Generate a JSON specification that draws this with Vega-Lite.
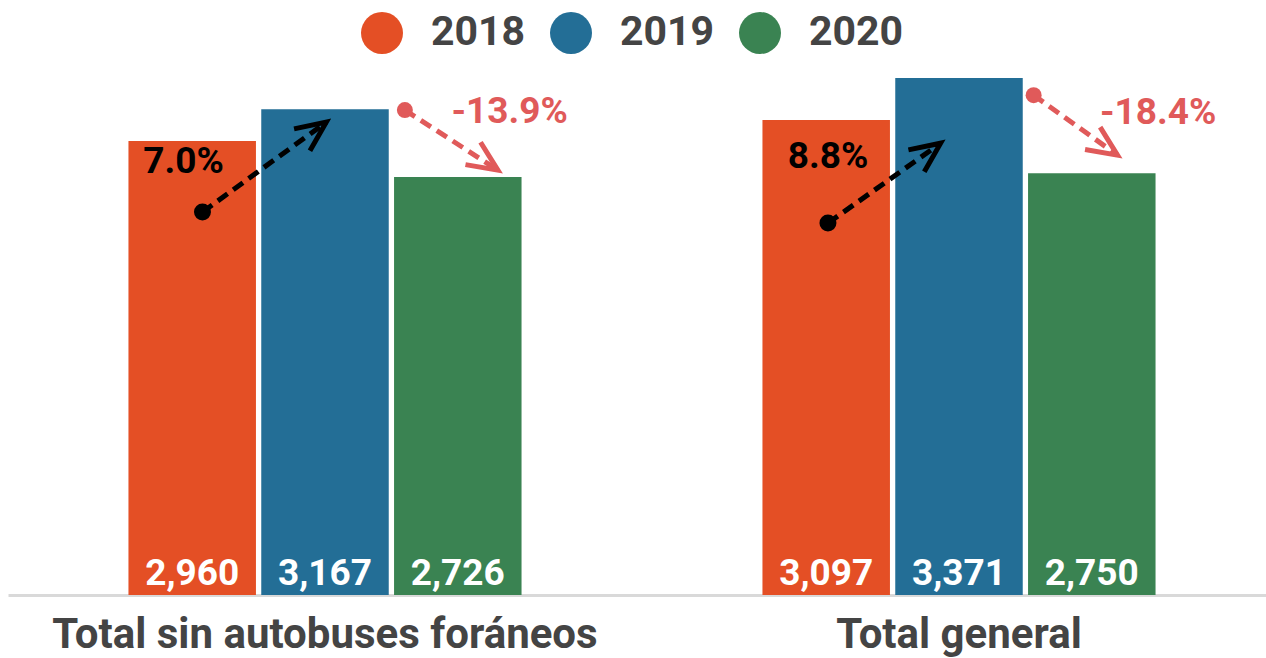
{
  "$schema": "https://vega.github.io/schema/vega-lite/v6.json",
  "autosize": {"type": "none"},
  "padding": {"left": 8, "top": 78, "right": 0, "bottom": 63},
  "width": 1258,
  "height": 517,
  "background": "white",
  "config": {"view": {"stroke": null}, "font": "Roboto"},
  "datasets": {
    "bars": [
      {"cat": "Total sin autobuses foráneos", "year": "2018", "value": 2960},
      {"cat": "Total sin autobuses foráneos", "year": "2019", "value": 3167},
      {"cat": "Total sin autobuses foráneos", "year": "2020", "value": 2726},
      {"cat": "Total general", "year": "2018", "value": 3097},
      {"cat": "Total general", "year": "2019", "value": 3371},
      {"cat": "Total general", "year": "2020", "value": 2750}
    ],
    "arrows": [
      {"cat": "Total sin autobuses foráneos", "arrow": "up", "part": "start", "pos": 0.565, "value": 2497},
      {"cat": "Total sin autobuses foráneos", "arrow": "up", "part": "end", "pos": 1.51, "value": 3083},
      {"cat": "Total sin autobuses foráneos", "arrow": "down", "part": "start", "pos": 2.11, "value": 3162},
      {"cat": "Total sin autobuses foráneos", "arrow": "down", "part": "end", "pos": 2.82, "value": 2770},
      {"cat": "Total general", "arrow": "up", "part": "start", "pos": 0.5, "value": 2425},
      {"cat": "Total general", "arrow": "up", "part": "end", "pos": 1.36, "value": 2946},
      {"cat": "Total general", "arrow": "down", "part": "start", "pos": 2.07, "value": 3259},
      {"cat": "Total general", "arrow": "down", "part": "end", "pos": 2.71, "value": 2868}
    ],
    "labels": [
      {"cat": "Total sin autobuses foráneos", "arrow": "up", "pos": 0.42, "value": 2823, "label": "7.0%"},
      {"cat": "Total sin autobuses foráneos", "arrow": "down", "pos": 2.91, "value": 3149, "label": "-13.9%"},
      {"cat": "Total general", "arrow": "up", "pos": 0.5, "value": 2855, "label": "8.8%"},
      {"cat": "Total general", "arrow": "down", "pos": 3.02, "value": 3142, "label": "-18.4%"}
    ]
  },
  "encoding": {
    "x": {
      "field": "cat",
      "type": "nominal",
      "sort": ["Total sin autobuses foráneos", "Total general"],
      "scale": {"range": [0, 1268], "paddingInner": 0.38, "paddingOuter": 0.19},
      "axis": {
        "title": null,
        "orient": "bottom",
        "ticks": false,
        "domainColor": "#d9d9d9",
        "domainWidth": 3,
        "labelFont": "Roboto",
        "labelFontSize": 42,
        "labelFontWeight": "bold",
        "labelColor": "#444444",
        "labelPadding": 19,
        "labelAngle": 0,
        "labelLimit": 0
      }
    },
    "y": {
      "field": "value",
      "type": "quantitative",
      "scale": {"domain": [0, 3371], "nice": false, "zero": true},
      "axis": null
    }
  },
  "resolve": {"scale": {"xOffset": "independent"}},
  "layer": [
    {
      "data": {"name": "bars"},
      "encoding": {
        "xOffset": {"field": "year", "type": "nominal", "scale": {"paddingInner": 0.04, "paddingOuter": 0}}
      },
      "layer": [
        {
          "mark": {"type": "bar"},
          "encoding": {
            "color": {
              "field": "year",
              "type": "nominal",
              "scale": {"domain": ["2018", "2019", "2020"], "range": ["#E44F25", "#236E96", "#3A8352"]},
              "legend": {
                "orient": "none",
                "legendX": 353,
                "legendY": -66,
                "direction": "horizontal",
                "title": null,
                "symbolType": "circle",
                "symbolSize": 1764,
                "symbolStrokeWidth": 0,
                "labelFont": "Roboto",
                "labelFontSize": 41,
                "labelFontWeight": "bold",
                "labelColor": "#444444",
                "labelOffset": 28,
                "columnPadding": 24,
                "padding": 0
              }
            }
          }
        },
        {
          "mark": {"type": "text", "color": "white", "font": "Roboto", "fontWeight": "bold", "fontSize": 37, "baseline": "alphabetic", "dy": -10},
          "encoding": {
            "y": {"datum": 0},
            "text": {"field": "value", "type": "quantitative", "format": ","}
          }
        }
      ]
    },
    {
      "encoding": {
        "xOffset": {"field": "pos", "type": "quantitative", "scale": {"domain": [0, 3], "range": [0, 393], "nice": false, "zero": false}}
      },
      "layer": [
        {
          "data": {"name": "arrows"},
          "transform": [{"filter": "datum.arrow === 'up'"}],
          "mark": {"type": "line", "color": "#000000", "strokeWidth": 5, "strokeDash": [12, 7]},
          "encoding": {"detail": {"field": "cat"}, "order": {"field": "pos", "type": "quantitative"}}
        },
        {
          "data": {"name": "arrows"},
          "transform": [{"filter": "datum.arrow === 'down'"}],
          "mark": {"type": "line", "color": "#E05A5A", "strokeWidth": 5, "strokeDash": [12, 7]},
          "encoding": {"detail": {"field": "cat"}, "order": {"field": "pos", "type": "quantitative"}}
        },
        {
          "data": {"name": "arrows"},
          "transform": [{"filter": "datum.arrow === 'up' && datum.part === 'start'"}],
          "mark": {"type": "point", "shape": "circle", "filled": true, "color": "#000000", "size": 289, "opacity": 1}
        },
        {
          "data": {"name": "arrows"},
          "transform": [{"filter": "datum.arrow === 'down' && datum.part === 'start'"}],
          "mark": {"type": "point", "shape": "circle", "filled": true, "color": "#E05A5A", "size": 256, "opacity": 1}
        },
        {
          "data": {"name": "arrows"},
          "transform": [{"filter": "datum.arrow === 'up' && datum.part === 'end'"}],
          "mark": {"type": "point", "shape": "M-1,-0.45L0,0L-1,0.45", "filled": false, "stroke": "#000000", "strokeWidth": 5, "size": 3600, "angle": -36, "opacity": 1}
        },
        {
          "data": {"name": "arrows"},
          "transform": [{"filter": "datum.arrow === 'down' && datum.part === 'end'"}],
          "mark": {"type": "point", "shape": "M-1,-0.45L0,0L-1,0.45", "filled": false, "stroke": "#E05A5A", "strokeWidth": 5, "size": 3600, "angle": 34, "opacity": 1}
        },
        {
          "data": {"name": "labels"},
          "transform": [{"filter": "datum.arrow === 'up'"}],
          "mark": {"type": "text", "color": "#000000", "font": "Roboto", "fontWeight": "bold", "fontSize": 37, "baseline": "middle", "align": "center"},
          "encoding": {"text": {"field": "label"}}
        },
        {
          "data": {"name": "labels"},
          "transform": [{"filter": "datum.arrow === 'down'"}],
          "mark": {"type": "text", "color": "#E05A5A", "font": "Roboto", "fontWeight": "bold", "fontSize": 37, "baseline": "middle", "align": "center"},
          "encoding": {"text": {"field": "label"}}
        }
      ]
    }
  ]
}
